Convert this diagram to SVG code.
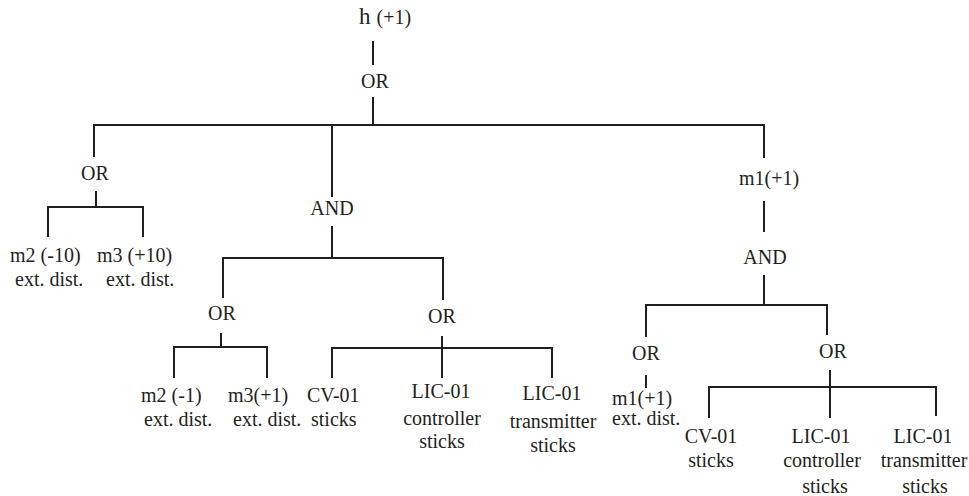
<svg xmlns="http://www.w3.org/2000/svg" width="969" height="496" viewBox="0 0 969 496" font-family="'Liberation Serif', 'Times New Roman', serif" font-size="20" fill="#231f20">
  <style>
    .c { text-anchor: middle; }
    .edge { fill: none; stroke: #231f20; stroke-width: 2; }
  </style>
  <rect width="969" height="496" fill="#ffffff"/>

  <!-- connectors: gate stems, bars and drops -->
  <g id="connectors">
    <path class="edge" d="M373 41 V65"/>
    <path class="edge" d="M373 97 V125"/>
    <path class="edge" d="M94 125 H764 M94 124 V157 M332 124 V197 M764 124 V158"/>
    <path class="edge" d="M96 191 V207 M48 207 H143 M48 206 V237 M143 206 V237"/>
    <path class="edge" d="M332 226 V258 M223 258 H443 M223 257 V298 M443 257 V300"/>
    <path class="edge" d="M221 333 V347 M174 347 H267 M174 346 V378 M267 346 V378"/>
    <path class="edge" d="M442 336 V378 M332 348 H552 M332 347 V378 M552 347 V378"/>
    <path class="edge" d="M764 201 V232"/>
    <path class="edge" d="M764 275 V305 M646 305 H827 M646 304 V337 M827 304 V335"/>
    <path class="edge" d="M646 375 V388"/>
    <path class="edge" d="M830 370 V418 M709 387 H936 M709 386 V418 M936 386 V416"/>
  </g>

  <g id="top-event"><text x="359" y="24"><tspan font-size="23">h</tspan><tspan dx="6">(+1)</tspan></text></g>
  <g id="or-root"><text class="c" x="375" y="88">OR</text></g>

  <g id="or-left"><text class="c" x="95" y="180">OR</text></g>
  <g id="m2-10"><text x="10" y="262">m2 (-10)</text><text x="15" y="286">ext. dist.</text></g>
  <g id="m3-10"><text x="97" y="262">m3 (+10)</text><text x="106" y="286">ext. dist.</text></g>

  <g id="and-mid"><text class="c" x="332" y="215">AND</text></g>
  <g id="or-mid-left"><text class="c" x="222" y="320">OR</text></g>
  <g id="or-mid-right"><text class="c" x="442" y="323">OR</text></g>
  <g id="m2-1"><text x="141" y="402">m2 (-1)</text><text x="144" y="426">ext. dist.</text></g>
  <g id="m3-1"><text x="228" y="402">m3(+1)</text><text x="233" y="426">ext. dist.</text></g>
  <g id="cv01-a"><text x="307" y="402">CV-01</text><text x="311" y="426">sticks</text></g>
  <g id="lic01-ctrl-a"><text class="c" x="441" y="398">LIC-01</text><text class="c" x="442" y="425">controller</text><text class="c" x="442" y="448">sticks</text></g>
  <g id="lic01-tx-a"><text class="c" x="552" y="400">LIC-01</text><text class="c" x="553" y="428">transmitter</text><text class="c" x="553" y="452">sticks</text></g>

  <g id="m1"><text class="c" x="769" y="185">m1(+1)</text></g>
  <g id="and-right"><text class="c" x="765" y="264">AND</text></g>
  <g id="or-right-left"><text class="c" x="646" y="360">OR</text></g>
  <g id="or-right-right"><text class="c" x="833" y="358">OR</text></g>
  <g id="m1-ext"><text x="612" y="405">m1(+1)</text><text x="612" y="425">ext. dist.</text></g>
  <g id="cv01-b"><text class="c" x="711" y="443">CV-01</text><text class="c" x="711" y="467">sticks</text></g>
  <g id="lic01-ctrl-b"><text class="c" x="821" y="443">LIC-01</text><text class="c" x="822" y="467">controller</text><text class="c" x="825" y="493">sticks</text></g>
  <g id="lic01-tx-b"><text class="c" x="923" y="443">LIC-01</text><text class="c" x="924" y="467">transmitter</text><text class="c" x="925" y="493">sticks</text></g>
</svg>
